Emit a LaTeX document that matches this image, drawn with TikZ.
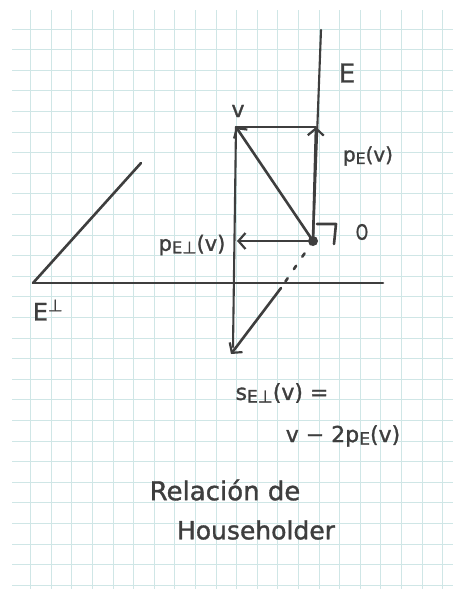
\documentclass[tikz,border=0pt]{standalone}
\usepackage{fontspec}
\usepackage{graphicx}
\setmainfont{DejaVu Sans}[FakeBold=1.2]
\usetikzlibrary{arrows.meta}
\definecolor{ink}{HTML}{3E3E3E}
\definecolor{gridc}{HTML}{CFE6E6}
\newcommand\lowsub[1]{\raisebox{-0.12em}{\scalebox{0.78}{#1}}}
\begin{document}
\begin{tikzpicture}[x=1pt,y=-1pt,
  ln/.style={draw=ink,line width=2.6pt,line cap=round,line join=round},
  thin/.style={draw=ink,line width=2.1pt,line cap=round,line join=round},
  arr/.style={ln,-{Straight Barb[length=7pt,width=16pt,line width=2.2pt]}},
  lbl/.style={text=ink,inner sep=0pt,anchor=center},
]
\useasboundingbox (0,0) rectangle (453,589);
\fill[white] (0,0) rectangle (453,589);
\begin{scope}
  \clip (12,10) rectangle (453,589);
  \foreach \i in {-1,...,21} \draw[gridc,line width=0.9pt] ({30.7+20.6*\i},10) -- ({30.7+20.6*\i},589);
  \foreach \j in {-1,...,28} \draw[gridc,line width=0.9pt] (12,{29+20.6*\j}) -- (453,{29+20.6*\j});
\end{scope}

\coordinate (O) at (313,241);
\coordinate (Etop) at (321,30);
\coordinate (PE) at (316,127);
\coordinate (V) at (236,127);
\coordinate (PP) at (237,241);
\coordinate (Vbot) at (233,347);
\coordinate (S) at (231,354);
\coordinate (Dend) at (281,288);
\coordinate (L1) at (33,283);
\coordinate (L2) at (383,283);
\coordinate (D2) at (141,163);
\coordinate (RA1) at (317,224);
\coordinate (RA2) at (336,224);
\coordinate (RA3) at (334,244);

\draw[thin] (O) -- (Etop);
\draw[arr] (O) -- (PE);
\draw[thin] (V) -- (PE);
\draw[arr] (O) -- (V);
\draw[arr] (O) -- (PP);
\draw[thin] (V) -- (Vbot);
\draw[ln,dash pattern=on 4pt off 11pt] (O) -- (Dend);
\draw[arr] (Dend) -- (S);
\draw[ln] (L1) -- (L2);
\draw[ln] (L1) -- (D2);
\draw[ln] (RA1) -- (RA2) -- (RA3);
\fill[ink] (O) circle (5pt);

\node[lbl,font=\fontsize{22}{22}\selectfont] (vl) at (238,111) {v};
\node[lbl,font=\fontsize{26}{26}\selectfont] (El) at (347,73) {E};
\node[lbl,font=\fontsize{20}{20}\selectfont] (pEl) at (368,156) {p\lowsub{E}(v)};
\node[lbl,font=\fontsize{21}{21}\selectfont] (Ol) at (362,232) {\scalebox{0.75}[1]{O}};
\node[lbl,font=\fontsize{21}{21}\selectfont] (pPl) at (192,245) {p\lowsub{E⊥}(v)};
\node[lbl,font=\fontsize{24}{24}\selectfont] (EPl) at (48,310) {E\textsuperscript{⊥}};
\node[lbl,font=\fontsize{22}{22}\selectfont] (sl) at (282,393) {s\lowsub{E⊥}(v) =};
\node[lbl,font=\fontsize{22}{22}\selectfont] (fl) at (343,436) {v~−~2p\lowsub{E}(v)};
\node[lbl,font=\fontsize{26}{26}\selectfont] (r1) at (225,490) {Relación de};
\node[lbl,font=\fontsize{25}{25}\selectfont] (r2) at (256,530) {Householder};
\end{tikzpicture}
\end{document}
